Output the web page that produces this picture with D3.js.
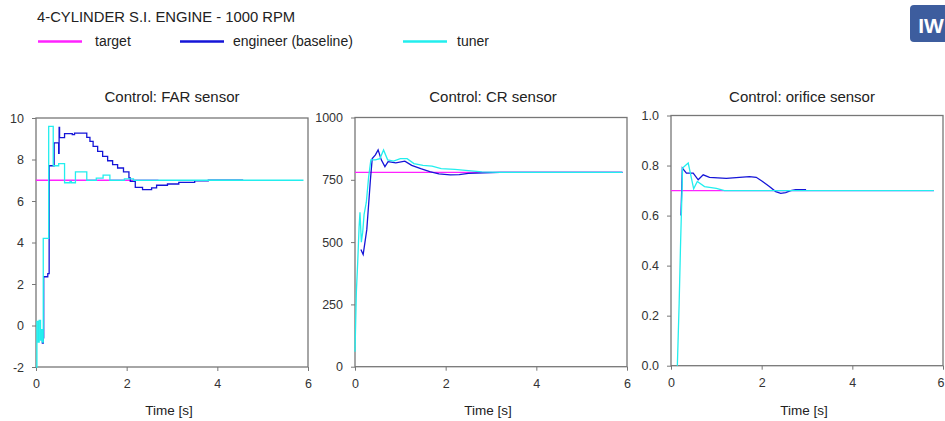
<!DOCTYPE html>
<html>
<head>
<meta charset="utf-8">
<script src="https://cdnjs.cloudflare.com/ajax/libs/d3/7.8.5/d3.min.js"></script>
<style>
body { margin: 0; background: #fff; }
svg text { font-family: "Liberation Sans", Arial, sans-serif; fill: #222; }
.axis .domain { display: none; }
.axis line { stroke: #777; }
.axis text { font-size: 12.5px; fill: #333; }
</style>
</head>
<body>
<div id="chart"></div>
<script>

var chartTitle = "4-CYLINDER S.I. ENGINE - 1000 RPM";
var seriesNames = ["target", "engineer (baseline)", "tuner"];
var panelTitles = ["Control: FAR sensor", "Control: CR sensor", "Control: orifice sensor"];
var xTicks = [0, 2, 4, 6];

var farTicks = [-2, 0, 2, 4, 6, 8, 10];
var farTarget = [[0, 7], [2.7, 7]];
var farEngineer = [[0.12, -0.3], [0.14, -0.85], [0.16, -0.6], [0.17, 2.35], [0.26, 2.5], [0.29, 7.7],
    [0.4, 8.8], [0.5, 8.3], [0.51, 9.55], [0.52, 9.05], [0.63, 9.25], [0.8, 9.2], [0.85, 9.27],
    [1.12, 9.07], [1.19, 8.87], [1.26, 8.63], [1.36, 8.39], [1.47, 8.15], [1.58, 7.94], [1.69, 7.75],
    [1.8, 7.59], [1.93, 7.4], [2.05, 7.11], [2.08, 6.95], [2.19, 6.66], [2.35, 6.55], [2.55, 6.63],
    [2.66, 6.76], [2.9, 6.82], [3.15, 6.9], [3.5, 6.97], [3.8, 7.0], [4.57, 7.0]];
var farTuner = [[0, -2], [0.02, 0.2], [0.05, -0.8], [0.07, 0.25], [0.1, -0.7], [0.12, -0.2], [0.14, -0.8],
    [0.16, 4.2], [0.28, 9.6], [0.38, 7.7], [0.5, 7.8], [0.63, 6.88], [0.75, 6.95], [0.78, 6.88],
    [0.87, 7.4], [1.12, 7.0], [1.33, 7.1], [1.48, 7.25], [1.63, 7.0], [1.95, 7.07], [2.15, 7.0], [5.9, 7.0]];

var crTicks = [0, 250, 500, 750, 1000];
var crTarget = [[0, 780], [5.9, 780]];
var crEngineer = [[0.13, 470], [0.18, 450], [0.22, 500], [0.26, 550], [0.3, 650], [0.34, 750], [0.38, 835],
    [0.45, 850], [0.51, 870], [0.58, 830], [0.66, 803], [0.73, 823], [0.9, 818], [1.1, 825], [1.25, 808],
    [1.45, 795], [1.65, 783], [1.85, 774], [2.1, 770], [2.3, 771], [2.5, 776], [3.2, 780], [5.9, 780]];
var crTuner = [[0, 60], [0.03, 300], [0.06, 420], [0.09, 560], [0.11, 620], [0.14, 500], [0.17, 540],
    [0.2, 610], [0.25, 660], [0.3, 760], [0.35, 830], [0.45, 830], [0.55, 835], [0.63, 870], [0.72, 830],
    [0.85, 825], [1.0, 835], [1.15, 835], [1.3, 815], [1.5, 808], [1.7, 805], [1.9, 795], [2.2, 792],
    [2.5, 787], [2.8, 782], [3.2, 780], [5.9, 780]];

var orificeTicks = [0, 0.2, 0.4, 0.6, 0.8, 1.0];
var orificeTarget = [[0, 0.7], [5.8, 0.7]];
var orificeEngineer = [[0.22, 0.6], [0.25, 0.79], [0.34, 0.77], [0.49, 0.77], [0.6, 0.743], [0.71, 0.763],
    [0.85, 0.753], [1.22, 0.749], [1.51, 0.753], [1.73, 0.756], [1.88, 0.753], [2.02, 0.736], [2.17, 0.716],
    [2.31, 0.696], [2.42, 0.689], [2.53, 0.692], [2.64, 0.7], [2.75, 0.704], [2.98, 0.704]];
var orificeTuner = [[0.14, 0], [0.18, 0.25], [0.21, 0.48], [0.24, 0.68], [0.255, 0.79], [0.38, 0.81],
    [0.5, 0.707], [0.58, 0.736], [0.74, 0.716], [1.0, 0.709], [1.18, 0.7], [5.8, 0.7]];

var colors = ["#ff22ff", "#1515d8", "#22eeee"];

// ---- layout ----
var width = 945, height = 421;
var boxes = [
    {left: 36, right: 308, top: 118, bottom: 367, titleDx: 0},
    {left: 355, right: 627, top: 117.5, bottom: 366.7, titleDx: 2},
    {left: 671, right: 943, top: 115.5, bottom: 365.7, titleDx: -5}
];

var panels = [
    {title: panelTitles[0], ticks: farTicks, fmt: function(d) { return String(d); },
        series: [farTarget, farEngineer, farTuner], curve: d3.curveStepAfter},
    {title: panelTitles[1], ticks: crTicks, fmt: function(d) { return String(d); },
        series: [crTarget, crEngineer, crTuner], curve: d3.curveLinear},
    {title: panelTitles[2], ticks: orificeTicks, fmt: d3.format(".1f"),
        series: [orificeTarget, orificeEngineer, orificeTuner], curve: d3.curveLinear}
];

var svg = d3.select("#chart").append("svg")
    .attr("width", width)
    .attr("height", height);

// header + legend
svg.append("text")
    .attr("x", 37).attr("y", 22)
    .style("font-size", "14.8px")
    .text(chartTitle);

var legendLineX = [38, 180, 403];
var legendTextX = [95, 233, 457];
seriesNames.forEach(function(name, i) {
    svg.append("line")
        .attr("x1", legendLineX[i]).attr("x2", legendLineX[i] + 44)
        .attr("y1", 41.5).attr("y2", 41.5)
        .style("stroke", colors[i])
        .style("stroke-width", 2.5);
    svg.append("text")
        .attr("x", legendTextX[i]).attr("y", 46)
        .style("font-size", "14px")
        .text(name);
});

// logo
var logo = svg.append("g").attr("transform", "translate(910,5)");
logo.append("rect")
    .attr("width", 40).attr("height", 37).attr("rx", 4)
    .style("fill", "#3d5d9e");
logo.append("text")
    .attr("x", 21).attr("y", 28)
    .attr("text-anchor", "middle")
    .style("font-size", "21px").style("font-weight", "bold")
    .style("fill", "#fff")
    .text("IW");

// panels
panels.forEach(function(p, k) {
    var b = boxes[k];
    var x = d3.scaleLinear().domain([0, 6]).range([b.left, b.right]);
    var y = d3.scaleLinear().domain(d3.extent(p.ticks)).range([b.bottom, b.top]);

    var g = svg.append("g");

    g.append("rect")
        .attr("x", b.left).attr("y", b.top)
        .attr("width", b.right - b.left).attr("height", b.bottom - b.top)
        .style("fill", "none")
        .style("stroke", "#777")
        .style("stroke-width", 1.3);

    var xAxis = g.append("g")
        .attr("class", "axis")
        .attr("transform", "translate(0," + b.bottom + ")")
        .call(d3.axisBottom(x).tickValues(xTicks).tickSize(4).tickPadding(8)
            .tickFormat(function(d) { return String(d); }));

    // keep the last label inside the window
    xAxis.selectAll(".tick text")
        .filter(function(d) { return x(d) + 4 > width; })
        .attr("text-anchor", "end")
        .attr("x", width - x(6) - 1);

    g.append("g")
        .attr("class", "axis")
        .attr("transform", "translate(" + b.left + ",0)")
        .call(d3.axisLeft(y).tickValues(p.ticks).tickSize(4).tickPadding(8).tickFormat(p.fmt));

    var line = d3.line()
        .curve(p.curve)
        .x(function(d) { return x(d[0]); })
        .y(function(d) { return y(d[1]); });

    p.series.forEach(function(s, i) {
        g.append("path")
            .datum(s)
            .attr("d", line)
            .style("fill", "none")
            .style("stroke", colors[i])
            .style("stroke-width", 1.3);
    });

    var cx = (b.left + b.right) / 2;
    g.append("text")
        .attr("x", cx + b.titleDx).attr("y", 102)
        .attr("text-anchor", "middle")
        .style("font-size", "15px")
        .text(p.title);

    g.append("text")
        .attr("x", cx - 3).attr("y", 415)
        .attr("text-anchor", "middle")
        .style("font-size", "13.5px")
        .text("Time [s]");
});

</script>
</body>
</html>
